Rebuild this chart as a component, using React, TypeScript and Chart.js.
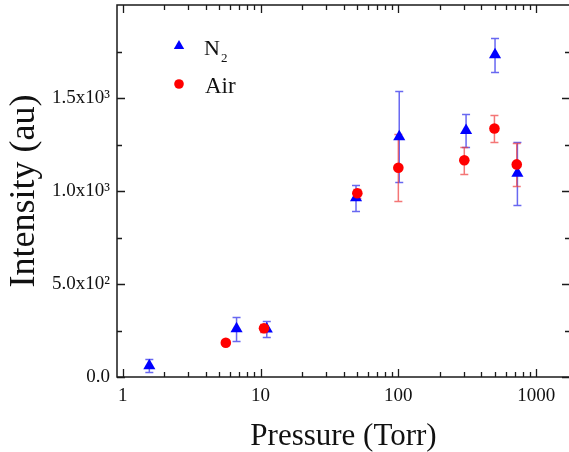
import React, { useEffect, useRef } from "react";
import { Chart, registerables } from "chart.js";

Chart.register(...registerables);

// ---- Data ----
const n2Pressure = [1.56, 6.7, 11.1, 49.3, 101.5, 310, 503, 731];
const n2Intensity = [60, 259, 258, 964, 1291, 1325, 1732, 1095];
const n2Error = [35, 63, 45, 70, 245, 88, 91, 170];

const airPressure = [5.6, 10.6, 50.4, 100, 301, 498, 723];
const airIntensity = [184, 262, 988, 1125, 1165, 1336, 1143];
const airError = [0, 22, 25, 180, 74, 72, 117];

// ---- Ticks ----
const xMajorTicks = [1, 10, 100, 1000];
const xTickLabels = ["1", "10", "100", "1000"];
const xMinorTicks = [
  2, 3, 4, 5, 6, 7, 8, 9,
  20, 30, 40, 50, 60, 70, 80, 90,
  200, 300, 400, 500, 600, 700, 800, 900,
];
const yMajorTicks = [0, 500, 1000, 1500];
const yTickLabels = ["0.0", "5.0x10\u00B2", "1.0x10\u00B3", "1.5x10\u00B3"];
const yMinorTicks = [250, 750, 1250, 1750];

const seriesNames = ["N", "Air"];

const FONT = "'Liberation Serif', 'Times New Roman', serif";
const BLUE = "#0000ff";
const RED = "#ff0000";

const errorBarPlugin = {
  id: "errorBars",
  beforeDatasetsDraw(chart: any) {
    const { ctx } = chart;
    const y = chart.scales.y;
    chart.data.datasets.forEach((ds: any, i: number) => {
      const meta = chart.getDatasetMeta(i);
      ctx.save();
      ctx.strokeStyle = ds.errorColor;
      ctx.lineWidth = 1.5;
      meta.data.forEach((pt: any, j: number) => {
        const e = ds.errors[j];
        if (!e) return;
        const v = ds.data[j].y;
        const yt = Math.round(y.getPixelForValue(v + e)) + 0.5;
        const yb = Math.round(y.getPixelForValue(v - e)) + 0.5;
        const px = pt.x;
        ctx.beginPath();
        ctx.moveTo(px, yt);
        ctx.lineTo(px, yb);
        ctx.moveTo(px - 4, yt);
        ctx.lineTo(px + 4, yt);
        ctx.moveTo(px - 4, yb);
        ctx.lineTo(px + 4, yb);
        ctx.stroke();
      });
      ctx.restore();
    });
  },
};

const framePlugin = {
  id: "frameTicks",
  afterDraw(chart: any) {
    const { ctx, chartArea } = chart;
    const { left, right, top, bottom } = chartArea;
    const x = chart.scales.x;
    const y = chart.scales.y;
    ctx.save();
    ctx.strokeStyle = "#1a1a1a";
    ctx.lineWidth = 1.5;
    ctx.strokeRect(left, top, right - left, bottom - top);
    ctx.lineWidth = 1.3;
    ctx.beginPath();
    const xt = (v: number, len: number) => {
      const px = Math.round(x.getPixelForValue(v)) + 0.5;
      ctx.moveTo(px, bottom);
      ctx.lineTo(px, bottom - len);
      ctx.moveTo(px, top);
      ctx.lineTo(px, top + len);
    };
    const yt = (v: number, len: number) => {
      const py = Math.round(y.getPixelForValue(v)) + 0.5;
      ctx.moveTo(left, py);
      ctx.lineTo(left + len, py);
      ctx.moveTo(right, py);
      ctx.lineTo(right - len, py);
    };
    xMajorTicks.forEach((v) => xt(v, 8));
    xMinorTicks.forEach((v) => xt(v, 5));
    yMajorTicks.forEach((v) => yt(v, 8));
    yMinorTicks.forEach((v) => yt(v, 5));
    ctx.stroke();
    ctx.restore();
  },
};

const legendPlugin = {
  id: "insideLegend",
  afterDraw(chart: any) {
    const { ctx, chartArea } = chart;
    const lx = chartArea.left + 62;
    const y1 = chartArea.top + 41;
    const y2 = chartArea.top + 79;
    ctx.save();
    const r = 6;
    ctx.fillStyle = BLUE;
    ctx.beginPath();
    ctx.moveTo(lx, y1 - r);
    ctx.lineTo(lx + r * 0.866, y1 + r / 2);
    ctx.lineTo(lx - r * 0.866, y1 + r / 2);
    ctx.closePath();
    ctx.fill();
    ctx.fillStyle = RED;
    ctx.beginPath();
    ctx.arc(lx, y2, 4.8, 0, Math.PI * 2);
    ctx.fill();
    ctx.fillStyle = "#111";
    ctx.textBaseline = "alphabetic";
    ctx.textAlign = "left";
    ctx.font = `22px ${FONT}`;
    ctx.fillText(seriesNames[0], lx + 25, y1 + 9);
    const w = ctx.measureText(seriesNames[0]).width;
    ctx.font = `13px ${FONT}`;
    ctx.fillText("2", lx + 25 + w + 1, y1 + 16);
    ctx.font = `23px ${FONT}`;
    ctx.fillText(seriesNames[1], lx + 26, y2 + 9);
    ctx.restore();
  },
};

export default function App() {
  const ref = useRef<HTMLCanvasElement | null>(null);

  useEffect(() => {
    if (!ref.current) return;
    const chart = new Chart(ref.current, {
      type: "scatter",
      data: {
        datasets: [
          {
            label: "N2",
            data: n2Pressure.map((p, i) => ({ x: p, y: n2Intensity[i] })),
            errors: n2Error,
            errorColor: "rgba(40,40,235,0.7)",
            pointStyle: "triangle",
            pointRadius: 7,
            backgroundColor: BLUE,
            borderColor: BLUE,
            borderWidth: 0,
            order: 1,
          } as any,
          {
            label: "Air",
            data: airPressure.map((p, i) => ({ x: p, y: airIntensity[i] })),
            errors: airError,
            errorColor: "rgba(240,60,60,0.7)",
            pointStyle: "circle",
            pointRadius: 5.3,
            backgroundColor: RED,
            borderColor: RED,
            borderWidth: 0,
            order: 0,
          } as any,
        ],
      },
      options: {
        responsive: false,
        animation: false,
        devicePixelRatio: 1,
        layout: { autoPadding: false, padding: { top: 5, right: 1, left: 0, bottom: 0 } },
        plugins: {
          legend: { display: false },
          tooltip: { enabled: false },
        },
        scales: {
          x: {
            type: "logarithmic",
            position: "bottom",
            min: 0.909,
            max: 1760,
            grid: { display: false, drawTicks: false },
            border: { display: false },
            ticks: {
              autoSkip: false,
              maxRotation: 0,
              padding: 8,
              color: "#111",
              font: { family: FONT, size: 19 },
              callback: (v: any) => {
                const i = xMajorTicks.indexOf(Number(v));
                return i >= 0 ? xTickLabels[i] : "";
              },
            },
            afterBuildTicks: (s: any) => {
              s.ticks = xMajorTicks.map((v) => ({ value: v }));
            },
            afterFit: (s: any) => {
              s.height = 75;
              s.paddingLeft = 0;
              s.paddingRight = 0;
            },
            title: {
              display: true,
              text: "Pressure (Torr)",
              color: "#111",
              font: { family: FONT, size: 31, lineHeight: 1 },
              padding: { top: 0, bottom: 0 },
            },
          },
          y: {
            type: "linear",
            position: "left",
            min: 0,
            max: 2000,
            grid: { display: false, drawTicks: false },
            border: { display: false },
            ticks: {
              padding: 7,
              color: "#111",
              font: { family: FONT, size: 19 },
              callback: (v: any) => {
                const i = yMajorTicks.indexOf(Number(v));
                return i >= 0 ? yTickLabels[i] : "";
              },
            },
            afterBuildTicks: (s: any) => {
              s.ticks = yMajorTicks.map((v) => ({ value: v }));
            },
            afterFit: (s: any) => {
              s.width = 117;
              s.paddingTop = 0;
              s.paddingBottom = 0;
            },
            title: {
              display: true,
              text: "Intensity (au)",
              color: "#111",
              font: { family: FONT, size: 36 },
              padding: { top: 3, bottom: 0 },
            },
          },
        },
      },
      plugins: [errorBarPlugin, framePlugin, legendPlugin],
    } as any);
    return () => chart.destroy();
  }, []);

  return (
    <div
      style={{
        position: "fixed",
        left: 0,
        top: 0,
        width: 569,
        height: 452,
        overflow: "hidden",
        background: "#fff",
      }}
    >
      <canvas ref={ref} width={571} height={452} style={{ display: "block" }} />
    </div>
  );
}
